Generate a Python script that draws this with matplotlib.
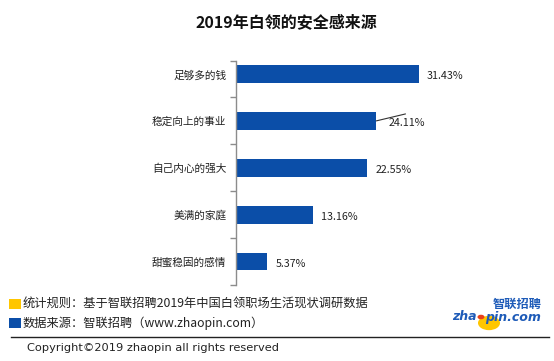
import numpy as np
import matplotlib
matplotlib.use('Agg')
import matplotlib.pyplot as plt
from matplotlib.patches import Rectangle, Circle
from matplotlib.lines import Line2D

plt.rcParams['font.family'] = ['Noto Sans CJK SC', 'DejaVu Sans']

# Données
categories = ['足够多的钱', '稳定向上的事业', '自己内心的强大', '美满的家庭', '甜蜜稳固的感情']
valeurs = [31.43, 24.11, 22.55, 13.16, 5.37]
etiquettes = ['31.43%', '24.11%', '22.55%', '13.16%', '5.37%']

titre = '2019年白领的安全感来源'
note_regle = '统计规则：基于智联招聘2019年中国白领职场生活现状调研数据'
note_source = '数据来源：智联招聘（www.zhaopin.com）'
copyright_txt = 'Copyright©2019 zhaopin all rights reserved'

BLEU = '#0B4EA8'
JAUNE = '#FFC600'
W, H = 554, 361


def px(x, y):
    """Pixels (haut-gauche) -> fraction de figure."""
    return x / W, 1 - y / H


fig = plt.figure(figsize=(W / 100, H / 100), dpi=100)
fig.patch.set_facecolor('white')

# Axe principal
gauche, haut = 236, 61
droite, bas = 236 + 40 * 5.82, 285
ax = fig.add_axes([gauche / W, 1 - bas / H, (droite - gauche) / W, (bas - haut) / H])

n = len(categories)
pos = np.arange(n)[::-1]
ax.barh(pos, valeurs, height=0.38, color=BLEU)
ax.set_xlim(0, 40)
ax.set_ylim(-0.49, n - 1 + 0.277)

for s in ['top', 'right', 'bottom']:
    ax.spines[s].set_visible(False)
ax.spines['left'].set_color('#8c8c8c')
ax.spines['left'].set_linewidth(1.0)
ax.set_xticks([])
ax.set_yticks(pos)
ax.set_yticklabels(categories, fontsize=7.7, color='#222222')
ax.tick_params(axis='y', which='major', length=0, pad=7)
ax.set_yticks(list(np.arange(-0.5, n - 1, 1.0)) + [n - 1 + 0.277], minor=True)
ax.tick_params(axis='y', which='minor', length=4, color='#8c8c8c', width=1.0)

for i, (v, lab) in enumerate(zip(valeurs, etiquettes)):
    y = pos[i]
    if i == 1:
        # ligne de rappel pour 24.11%
        ax.annotate('', xy=(v, y), xytext=(21, 5), textcoords='offset points',
                    arrowprops=dict(arrowstyle='-', color='#333333', lw=0.8,
                                    shrinkA=0, shrinkB=0))
        ax.annotate(lab, xy=(v, y), xytext=(8.5, -1.5), textcoords='offset points',
                    ha='left', va='center', fontsize=7.7, color='#222222')
    else:
        ax.annotate(lab, xy=(v, y), xytext=(5.8, -1.5), textcoords='offset points',
                    ha='left', va='center', fontsize=7.7, color='#222222')

# Titre
fig.text(*px(286, 22), titre, ha='center', va='center', fontsize=11.5,
         fontweight='bold', color='#111111')

# Pied de page
fig.add_artist(Rectangle(px(9, 309), 12 / W, 10 / H, transform=fig.transFigure,
                         facecolor=JAUNE, edgecolor='none'))
fig.add_artist(Rectangle(px(9, 328), 12 / W, 10 / H, transform=fig.transFigure,
                         facecolor=BLEU, edgecolor='none'))
fig.text(*px(23, 304), note_regle, ha='left', va='center', fontsize=8.8, color='#222222')
fig.text(*px(23, 323), note_source, ha='left', va='center', fontsize=8.8, color='#222222')
fig.add_artist(Line2D([11 / W, 549 / W], [1 - 337 / H] * 2, transform=fig.transFigure,
                      color='#222222', lw=1.0))
fig.text(*px(27, 348), copyright_txt, ha='left', va='center', fontsize=8.2,
         color='#222222', family=['DejaVu Sans'])

# Logo
fig.add_artist(Circle(px(489, 323), 11 / W, transform=fig.transFigure,
                      facecolor=JAUNE, edgecolor='none'))
fig.add_artist(Circle(px(481, 317), 3.5 / W, transform=fig.transFigure,
                      facecolor='#E8401C', edgecolor='none'))
fig.text(*px(517, 304), '智联招聘', ha='center', va='center', fontsize=8.8,
         fontweight='bold', style='italic', color='#1E5BB8')
fig.text(*px(477, 317), 'zha', ha='right', va='center', fontsize=9,
         fontweight='bold', style='italic', color='#1E5BB8', family=['DejaVu Sans'])
fig.text(*px(485, 317), 'pin.com', ha='left', va='center', fontsize=9,
         fontweight='bold', style='italic', color='#1E5BB8', family=['DejaVu Sans'])

plt.savefig('out.png', dpi=100)
